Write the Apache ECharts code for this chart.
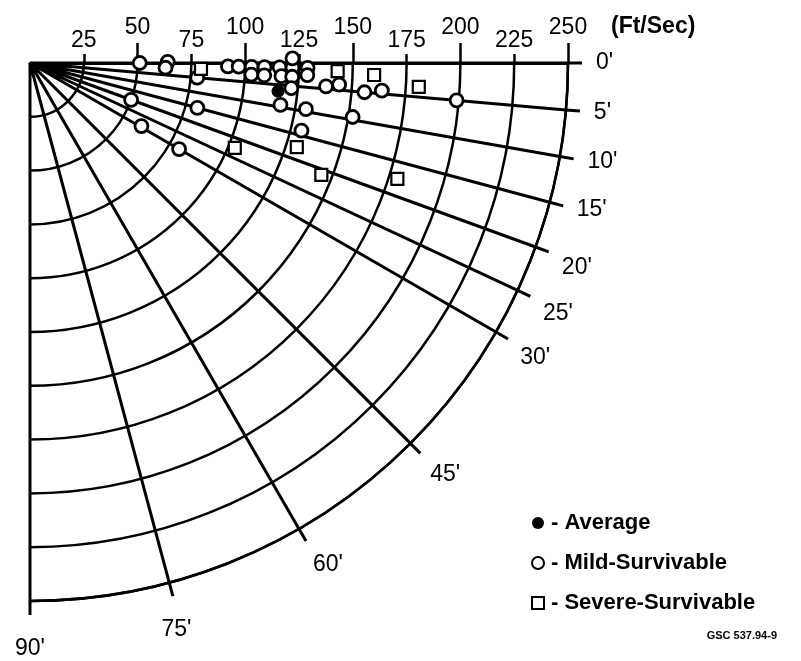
<!DOCTYPE html>
<html>
<head>
<meta charset="utf-8">
<title>Impact velocity vs. impact angle</title>
<script src="https://cdn.jsdelivr.net/npm/echarts@6.0.0/dist/echarts.min.js"></script>
<style>
  html, body { margin: 0; padding: 0; background: #fff; }
  #chart { width: 801px; height: 661px; }
</style>
</head>
<body>
<div id="chart"></div>
<script>
// Velocity rings (Ft/Sec) and the angle rays that are labelled
const velocityTicks = [25, 50, 75, 100, 125, 150, 175, 200, 225, 250];
const angleTicks = [0, 5, 10, 15, 20, 25, 30, 45, 60, 75, 90];

// Average case: [velocity, angle]
const averageVelocity = [116];
const averageAngle = [6.5];

// Mild-survivable accidents
const mildVelocity = [51, 64, 63, 78, 92, 97, 103, 109, 116, 122, 129, 103, 109, 117, 122, 129,
                      122, 122, 118, 130, 130, 138, 144, 156, 164, 199, 152, 50, 59.5, 80, 80.5];
const mildAngle    = [0, -0.5, 2, 5, 1, 1, 1, 1, 1, 1, 1, 3, 3, 3, 3, 2.5,
                      -1, 5.5, 9.5, 9.5, 14, 4.5, 4, 5, 4.5, 5, 9.5, 20, 29.5, 30, 15];

// Severe-survivable accidents
const severeVelocity = [79.5, 143, 160, 181, 103, 130, 145, 179];
const severeAngle    = [2, 1.5, 2, 3.5, 22.5, 17.5, 21, 17.5];

const pairs = (r, a) => r.map((v, i) => [v, a[i]]);

// Rings at the 50s carry long ticks and raised labels; the 25s in between get short ticks
const majorRings = velocityTicks.filter(v => v % 50 === 0);
const minorRings = velocityTicks.filter(v => v % 50 !== 0);

const ink = '#000';
const font = '"Liberation Sans", Arial, Helvetica, sans-serif';
const polarFrame = { center: [30, 63], radius: 538 };

const chart = echarts.init(document.getElementById('chart'), null, { renderer: 'canvas' });

chart.setOption({
  backgroundColor: '#fff',
  animation: false,
  title: [
    {
      text: '(Ft/Sec)',
      left: 606, top: 10,
      textStyle: { fontFamily: font, fontSize: 23, fontWeight: 'bold', color: ink }
    },
    {
      text: 'GSC 537.94-9',
      right: 19, top: 625,
      textStyle: { fontFamily: font, fontSize: 11, fontWeight: 'bold', color: ink }
    }
  ],
  legend: {
    orient: 'vertical',
    left: 526, top: 507,
    itemWidth: 12, itemHeight: 12,
    itemGap: 18,
    formatter: name => '- ' + name,
    textStyle: { fontFamily: font, fontSize: 22, fontWeight: 'bold', color: ink, padding: [0, 0, 0, 2] },
    data: ['Average', 'Mild-Survivable', 'Severe-Survivable']
  },
  polar: [polarFrame, polarFrame],
  angleAxis: [
    {
      polarIndex: 0,
      type: 'value',
      min: 0, max: 90,
      startAngle: 0, endAngle: -90,
      clockwise: true,
      axisLine: { show: true, lineStyle: { color: ink, width: 2.5 } },
      axisTick: { show: true, customValues: angleTicks, length: 14, lineStyle: { color: ink, width: 3 } },
      axisLabel: {
        customValues: angleTicks,
        margin: 28,
        formatter: v => (v >= 75 ? '{low|' + v + "'}" : v + "'"),
        fontFamily: font, fontSize: 23, color: ink,
        rich: { low: { fontFamily: font, fontSize: 23, color: ink, padding: [8, 0, 0, 0] } }
      },
      splitLine: { show: true, lineStyle: { color: ink, width: 3 } }
    },
    {
      polarIndex: 1,
      type: 'value',
      min: 0, max: 90,
      startAngle: 0, endAngle: -90,
      clockwise: true,
      axisLine: { show: false },
      axisTick: { show: false },
      axisLabel: { show: false },
      splitLine: { show: false }
    }
  ],
  radiusAxis: [
    {
      polarIndex: 0,
      type: 'value',
      min: 0, max: 250,
      axisLine: { show: true, lineStyle: { color: ink, width: 3 } },
      axisTick: { show: true, customValues: majorRings, length: 20, lineStyle: { color: ink, width: 2.5 } },
      axisLabel: {
        customValues: velocityTicks,
        margin: 11,
        formatter: v => (v % 50 === 0 ? '{hi|' + v + '}' : '{lo|' + v + '}'),
        rich: {
          hi: { fontFamily: font, fontSize: 23, color: ink, padding: [0, 0, 13, 0] },
          lo: { fontFamily: font, fontSize: 23, color: ink }
        }
      },
      splitLine: { show: true, lineStyle: { color: ink, width: 2.5 } }
    },
    {
      polarIndex: 1,
      type: 'value',
      min: 0, max: 250,
      axisLine: { show: false },
      axisTick: { show: true, customValues: minorRings, length: 9, lineStyle: { color: ink, width: 2.5 } },
      axisLabel: { show: false },
      splitLine: { show: true, lineStyle: { color: ink, width: 2.5 } }
    }
  ],
  series: [
    {
      name: 'Average',
      type: 'scatter',
      coordinateSystem: 'polar',
      polarIndex: 0,
      symbol: 'circle',
      symbolSize: 13,
      itemStyle: { color: ink, opacity: 1 },
      z: 4,
      data: pairs(averageVelocity, averageAngle)
    },
    {
      name: 'Mild-Survivable',
      type: 'scatter',
      coordinateSystem: 'polar',
      polarIndex: 0,
      symbol: 'circle',
      symbolSize: 13,
      itemStyle: { color: '#fff', borderColor: ink, borderWidth: 2.8, opacity: 1 },
      z: 3,
      data: pairs(mildVelocity, mildAngle)
    },
    {
      name: 'Severe-Survivable',
      type: 'scatter',
      coordinateSystem: 'polar',
      polarIndex: 0,
      symbol: 'rect',
      symbolSize: 12,
      itemStyle: { color: '#fff', borderColor: ink, borderWidth: 2.2, opacity: 1 },
      z: 3,
      data: pairs(severeVelocity, severeAngle)
    }
  ]
});
</script>
</body>
</html>
